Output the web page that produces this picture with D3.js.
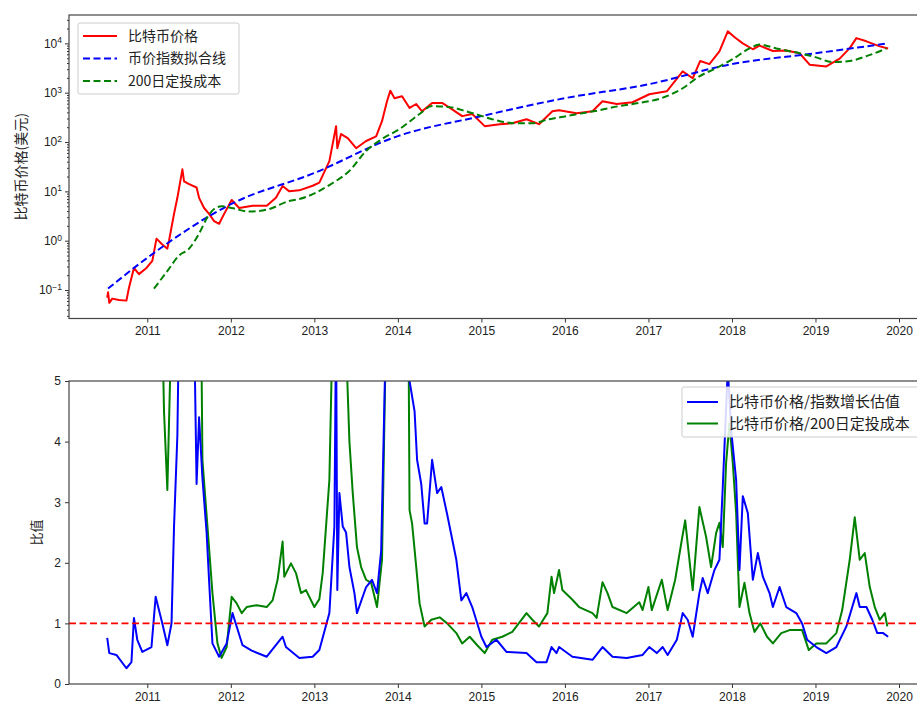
<!DOCTYPE html>
<html lang="zh">
<head>
<meta charset="utf-8">
<script src="https://d3js.org/d3.v7.min.js"></script>
<style>
body { margin: 0; background: #fff; }
svg { font-family: "Noto Sans CJK SC", "Noto Sans", sans-serif; }
.axis text { font-size: 12px; fill: #222; }
.axis line { stroke: #333; }
.axis path { display: none; }
.spine { fill: none; stroke: #444; stroke-width: 1.2; }
.line { fill: none; stroke-width: 2; stroke-linejoin: round; }
.legend-box { fill: #fff; fill-opacity: 0.85; stroke: #ccc; }
</style>
</head>
<body>
<svg width="917" height="709"></svg>
<script>

// ---- data: [year, value] ----
var price = [
  [2010.52, 0.07], [2010.53, 0.09], [2010.545, 0.055], [2010.58, 0.067], [2010.66, 0.063],
  [2010.75, 0.061], [2010.78, 0.11], [2010.84, 0.28], [2010.90, 0.21], [2010.99, 0.28],
  [2011.06, 0.39], [2011.11, 1.1], [2011.17, 0.87], [2011.24, 0.69], [2011.26, 1.0],
  [2011.32, 3.5], [2011.36, 7.4], [2011.42, 28], [2011.44, 16], [2011.50, 14],
  [2011.59, 12], [2011.62, 7.4], [2011.68, 4.6], [2011.74, 3.5], [2011.80, 2.5],
  [2011.86, 2.2], [2011.92, 3.5], [2012.01, 6.7], [2012.10, 4.6], [2012.26, 5.1],
  [2012.43, 5.1], [2012.54, 7.4], [2012.62, 12.9], [2012.70, 10], [2012.82, 10.5],
  [2012.98, 13], [2013.06, 15], [2013.18, 41], [2013.26, 210], [2013.275, 75],
  [2013.32, 145], [2013.40, 120], [2013.50, 75], [2013.62, 105], [2013.74, 130],
  [2013.81, 265], [2013.87, 670], [2013.91, 1100], [2013.96, 770], [2014.05, 850],
  [2014.14, 490], [2014.22, 590], [2014.29, 420], [2014.41, 620], [2014.53, 620],
  [2014.65, 460], [2014.77, 335], [2014.89, 370], [2015.04, 210], [2015.22, 230],
  [2015.37, 240], [2015.54, 290], [2015.69, 230], [2015.85, 420], [2015.93, 440],
  [2016.14, 385], [2016.33, 420], [2016.45, 670], [2016.62, 590], [2016.81, 640],
  [2017.01, 930], [2017.22, 1070], [2017.41, 2700], [2017.53, 1960], [2017.62, 4400],
  [2017.73, 3800], [2017.85, 6900], [2017.95, 17500], [2018.04, 13000], [2018.13, 10000],
  [2018.25, 7600], [2018.33, 9000], [2018.49, 7000], [2018.65, 7200], [2018.81, 6300],
  [2018.93, 3700], [2019.13, 3400], [2019.29, 4900], [2019.41, 8000], [2019.49, 12800],
  [2019.61, 11000], [2019.77, 8700], [2019.87, 7900]
];

var fitLine = [
  [2010.53, 0.107], [2011.0, 0.45], [2012.0, 5.5], [2013.0, 23.6], [2014.0, 132],
  [2015.0, 335], [2016.0, 775], [2017.0, 1480], [2018.0, 3800], [2019.0, 6300],
  [2019.87, 10000]
];

var dcaCost = [
  [2011.08, 0.107], [2011.23, 0.23], [2011.38, 0.5], [2011.50, 0.69], [2011.62, 1.4],
  [2011.72, 3.0], [2011.80, 4.4], [2011.89, 5.0], [2012.01, 4.6], [2012.22, 3.9],
  [2012.46, 4.4], [2012.70, 6.4], [2012.82, 7.0], [2013.22, 14.8], [2013.42, 26],
  [2013.62, 66], [2013.81, 115], [2014.02, 183], [2014.26, 370], [2014.41, 535],
  [2014.62, 510], [2014.82, 420], [2015.01, 335], [2015.22, 265], [2015.42, 240],
  [2015.61, 240], [2015.81, 290], [2016.02, 335], [2016.21, 385], [2016.41, 440],
  [2016.65, 535], [2016.81, 590], [2017.22, 850], [2017.41, 1230], [2017.61, 2150],
  [2017.81, 3150], [2018.01, 4800], [2018.21, 7900], [2018.33, 9500], [2018.53, 7900],
  [2018.81, 6300], [2019.01, 5200], [2019.20, 4200], [2019.41, 4400], [2019.61, 5500],
  [2019.85, 7900]
];

var ratioFit = [
  [2010.52, 0.76], [2010.545, 0.51], [2010.63, 0.48], [2010.75, 0.26], [2010.81, 0.36],
  [2010.84, 1.09], [2010.88, 0.73], [2010.94, 0.53], [2011.05, 0.61], [2011.10, 1.44],
  [2011.18, 1.0], [2011.24, 0.64], [2011.29, 1.0], [2011.32, 2.6], [2011.36, 4.1],
  [2011.38, 6], [2011.44, 12], [2011.50, 9], [2011.56, 6], [2011.59, 3.3],
  [2011.62, 4.4], [2011.66, 3.4], [2011.71, 2.5], [2011.74, 1.7], [2011.78, 0.67],
  [2011.86, 0.45], [2011.95, 0.67], [2012.02, 1.17], [2012.07, 0.95], [2012.14, 0.64],
  [2012.25, 0.55], [2012.43, 0.45], [2012.62, 0.78], [2012.66, 0.61], [2012.82, 0.43],
  [2012.98, 0.45], [2013.06, 0.56], [2013.18, 1.17], [2013.24, 2.6], [2013.26, 6],
  [2013.275, 1.55], [2013.30, 3.15], [2013.34, 2.6], [2013.38, 2.5], [2013.42, 1.93],
  [2013.48, 1.5], [2013.51, 1.17], [2013.62, 1.6], [2013.69, 1.72], [2013.75, 1.5],
  [2013.80, 2.2], [2013.86, 6], [2013.96, 9], [2014.05, 7], [2014.14, 5],
  [2014.20, 4.5], [2014.23, 3.7], [2014.28, 3.3], [2014.32, 2.65], [2014.35, 2.65],
  [2014.41, 3.7], [2014.47, 3.15], [2014.52, 3.25], [2014.59, 2.8], [2014.70, 2.05],
  [2014.76, 1.38], [2014.82, 1.5], [2014.89, 1.27], [2015.00, 0.78], [2015.06, 0.61],
  [2015.18, 0.73], [2015.30, 0.53], [2015.54, 0.51], [2015.66, 0.36], [2015.78, 0.36],
  [2015.84, 0.61], [2015.90, 0.51], [2015.93, 0.61], [2016.09, 0.45], [2016.33, 0.4],
  [2016.45, 0.61], [2016.57, 0.45], [2016.74, 0.43], [2016.93, 0.48], [2017.01, 0.61],
  [2017.10, 0.51], [2017.17, 0.61], [2017.23, 0.48], [2017.34, 0.73], [2017.41, 1.17],
  [2017.47, 1.06], [2017.53, 0.78], [2017.61, 1.5], [2017.65, 1.75], [2017.71, 1.5],
  [2017.79, 1.88], [2017.85, 2.05], [2017.89, 3.25], [2017.95, 5.2], [2017.99, 4.2],
  [2018.05, 3.37], [2018.09, 1.88], [2018.13, 3.1], [2018.19, 2.82], [2018.25, 1.72],
  [2018.31, 2.16], [2018.37, 1.77], [2018.45, 1.5], [2018.49, 1.27], [2018.57, 1.6],
  [2018.65, 1.27], [2018.77, 1.17], [2018.84, 1.0], [2018.90, 0.73], [2019.01, 0.61],
  [2019.13, 0.51], [2019.25, 0.61], [2019.37, 0.95], [2019.49, 1.5], [2019.53, 1.27],
  [2019.61, 1.27], [2019.68, 1.06], [2019.74, 0.84], [2019.81, 0.84], [2019.87, 0.78]
];

var ratioDca = [
  [2011.15, 8], [2011.20, 4.5], [2011.24, 3.2], [2011.29, 6], [2011.38, 15],
  [2011.56, 10], [2011.65, 5.2], [2011.66, 3.7], [2011.72, 2.6], [2011.78, 1.5],
  [2011.84, 0.67], [2011.89, 0.43], [2011.95, 0.61], [2012.01, 1.44], [2012.07, 1.33],
  [2012.13, 1.17], [2012.19, 1.27], [2012.31, 1.3], [2012.43, 1.27], [2012.50, 1.38],
  [2012.56, 1.72], [2012.62, 2.35], [2012.64, 1.77], [2012.72, 1.99], [2012.78, 1.83],
  [2012.84, 1.5], [2012.90, 1.55], [2013.00, 1.27], [2013.06, 1.4], [2013.10, 1.83],
  [2013.18, 3.37], [2013.22, 6], [2013.30, 9], [2013.37, 6], [2013.42, 4.0],
  [2013.46, 3.15], [2013.51, 2.26], [2013.56, 1.93], [2013.62, 1.72], [2013.68, 1.67],
  [2013.75, 1.27], [2013.81, 2.05], [2013.86, 6], [2013.99, 12], [2014.08, 8],
  [2014.13, 5.2], [2014.14, 2.87], [2014.17, 2.65], [2014.22, 1.93], [2014.26, 1.33],
  [2014.32, 0.95], [2014.40, 1.06], [2014.50, 1.1], [2014.59, 1.0], [2014.70, 0.84],
  [2014.77, 0.67], [2014.86, 0.78], [2014.95, 0.64], [2015.04, 0.51], [2015.13, 0.73],
  [2015.25, 0.78], [2015.37, 0.86], [2015.54, 1.17], [2015.61, 1.06], [2015.69, 0.95],
  [2015.79, 1.17], [2015.84, 1.77], [2015.87, 1.5], [2015.93, 1.88], [2015.97, 1.55],
  [2016.09, 1.39], [2016.17, 1.27], [2016.33, 1.17], [2016.38, 1.09], [2016.45, 1.68],
  [2016.51, 1.5], [2016.57, 1.27], [2016.74, 1.17], [2016.89, 1.35], [2016.93, 1.22],
  [2017.00, 1.6], [2017.04, 1.22], [2017.16, 1.72], [2017.23, 1.22], [2017.32, 1.72],
  [2017.40, 2.38], [2017.44, 2.7], [2017.53, 1.55], [2017.61, 2.92], [2017.69, 2.43],
  [2017.75, 1.93], [2017.81, 2.49], [2017.85, 2.66], [2017.89, 2.26], [2017.93, 3.65],
  [2017.97, 4.3], [2018.01, 3.65], [2018.05, 2.82], [2018.09, 1.27], [2018.15, 1.67],
  [2018.21, 1.17], [2018.27, 0.86], [2018.34, 1.0], [2018.42, 0.78], [2018.49, 0.67],
  [2018.59, 0.84], [2018.69, 0.89], [2018.84, 0.89], [2018.92, 0.56], [2019.01, 0.67],
  [2019.13, 0.67], [2019.25, 0.84], [2019.32, 1.22], [2019.41, 2.05], [2019.47, 2.75],
  [2019.53, 2.05], [2019.59, 2.16], [2019.65, 1.6], [2019.71, 1.27], [2019.77, 1.06],
  [2019.83, 1.17], [2019.86, 0.95]
];

var yearTicks = [2011, 2012, 2013, 2014, 2015, 2016, 2017, 2018, 2019, 2020];
var logTicks = [0.1, 1, 10, 100, 1000, 10000];
var ratioTicks = [0, 1, 2, 3, 4, 5];

var topLegend = ["比特币价格", "币价指数拟合线", "200日定投成本"];
var bottomLegend = ["比特币价格/指数增长估值", "比特币价格/200日定投成本"];

// ---- layout ----
var svg = d3.select("svg");
var left = 69, right = 927.4;
var top1 = 15, bot1 = 318.5, top2 = 381, bot2 = 684;

var x = d3.scaleLinear().domain([2010.0625, 2020.34]).range([left, right]);
var y1 = d3.scaleLog().domain([Math.pow(10, -1.577), Math.pow(10, 4.575)]).range([bot1, top1]);
var y2 = d3.scaleLinear().domain([0, 5]).range([bot2, top2]);

svg.append("clipPath").attr("id", "clip1").append("rect")
    .attr("x", left).attr("y", top1).attr("width", right - left).attr("height", bot1 - top1);
svg.append("clipPath").attr("id", "clip2").append("rect")
    .attr("x", left).attr("y", top2).attr("width", right - left).attr("height", bot2 - top2);

// ---- top panel ----
var g1 = svg.append("g").attr("clip-path", "url(#clip1)");
var line1 = d3.line().x(function(d) { return x(d[0]); }).y(function(d) { return y1(d[1]); });
var smooth1 = d3.line().curve(d3.curveMonotoneX)
    .x(function(d) { return x(d[0]); }).y(function(d) { return y1(d[1]); });

g1.append("path").datum(price).attr("class", "line").attr("stroke", "#ff0000").attr("d", line1);
g1.append("path").datum(fitLine).attr("class", "line").attr("stroke", "#0000ff")
    .attr("stroke-dasharray", "7,3.5").attr("d", smooth1);
g1.append("path").datum(dcaCost).attr("class", "line").attr("stroke", "#008000")
    .attr("stroke-dasharray", "7,3.5").attr("d", smooth1);

svg.append("g").attr("class", "axis").attr("transform", "translate(0," + bot1 + ")")
    .call(d3.axisBottom(x).tickValues(yearTicks).tickFormat(d3.format("d")).tickSize(4).tickPadding(4));

var minor = [];
for (var e = -2; e <= 4; e++) for (var m = 2; m <= 9; m++) {
  var v = m * Math.pow(10, e);
  if (v > y1.domain()[0] && v < y1.domain()[1]) minor.push(v);
}
svg.append("g").attr("class", "axis").attr("transform", "translate(" + left + ",0)")
    .call(d3.axisLeft(y1).tickValues(minor).tickFormat("").tickSize(2));

var yAx1 = svg.append("g").attr("class", "axis").attr("transform", "translate(" + left + ",0)")
    .call(d3.axisLeft(y1).tickValues(logTicks).tickFormat("").tickSize(4));
yAx1.selectAll(".tick").append("text")
    .attr("x", -7).attr("dy", "0.32em").attr("text-anchor", "end")
    .each(function(d) {
      var t = d3.select(this);
      t.append("tspan").text("10");
      t.append("tspan").attr("dy", "-0.5em").style("font-size", "8.5px")
          .text(String(Math.round(Math.log10(d))).replace("-", "\u2212"));
    });

svg.append("rect").attr("class", "spine")
    .attr("x", left).attr("y", top1).attr("width", right - left).attr("height", bot1 - top1);

svg.append("text").attr("transform", "translate(21," + ((top1 + bot1) / 2) + ") rotate(-90)")
    .attr("text-anchor", "middle").attr("dy", "0.35em").style("font-size", "14px").attr("fill", "#222")
    .text("比特币价格(美元)");

// legend top
var lg1 = svg.append("g");
lg1.append("rect").attr("class", "legend-box").attr("x", 78).attr("y", 23)
    .attr("width", 161).attr("height", 71).attr("rx", 2);
var lg1Style = [
  { c: "#ff0000", dash: null },
  { c: "#0000ff", dash: "7,3.5" },
  { c: "#008000", dash: "7,3.5" }
];
topLegend.forEach(function(name, i) {
  var yy = 36 + i * 22.5;
  lg1.append("line").attr("x1", 83).attr("x2", 117).attr("y1", yy).attr("y2", yy)
      .attr("stroke", lg1Style[i].c).attr("stroke-width", 2)
      .attr("stroke-dasharray", lg1Style[i].dash);
  lg1.append("text").attr("x", 128).attr("y", yy).attr("dy", "0.35em")
      .style("font-size", "14px").attr("fill", "#222").text(name);
});

// ---- bottom panel ----
var g2 = svg.append("g").attr("clip-path", "url(#clip2)");
var line2 = d3.line().x(function(d) { return x(d[0]); }).y(function(d) { return y2(d[1]); });

g2.append("path").datum(ratioDca).attr("class", "line").attr("stroke", "#008000").attr("d", line2);
g2.append("path").datum(ratioFit).attr("class", "line").attr("stroke", "#0000ff").attr("d", line2);
g2.append("line").attr("x1", left).attr("x2", right).attr("y1", y2(1)).attr("y2", y2(1))
    .attr("stroke", "#ff0000").attr("stroke-width", 1.6).attr("stroke-dasharray", "7,3.5");

svg.append("g").attr("class", "axis").attr("transform", "translate(0," + bot2 + ")")
    .call(d3.axisBottom(x).tickValues(yearTicks).tickFormat(d3.format("d")).tickSize(4).tickPadding(4));
svg.append("g").attr("class", "axis").attr("transform", "translate(" + left + ",0)")
    .call(d3.axisLeft(y2).tickValues(ratioTicks).tickFormat(d3.format("d")).tickSize(4).tickPadding(4));

svg.append("rect").attr("class", "spine")
    .attr("x", left).attr("y", top2).attr("width", right - left).attr("height", bot2 - top2);

svg.append("text").attr("transform", "translate(36," + ((top2 + bot2) / 2) + ") rotate(-90)")
    .attr("text-anchor", "middle").attr("dy", "0.35em").style("font-size", "13px").attr("fill", "#222")
    .text("比值");

// legend bottom
var lg2 = svg.append("g");
lg2.append("rect").attr("class", "legend-box").attr("x", 682).attr("y", 387)
    .attr("width", 250).attr("height", 50).attr("rx", 2);
var lg2Colors = ["#0000ff", "#008000"];
bottomLegend.forEach(function(name, i) {
  var yy = 402 + i * 21.5;
  lg2.append("line").attr("x1", 687).attr("x2", 718).attr("y1", yy).attr("y2", yy)
      .attr("stroke", lg2Colors[i]).attr("stroke-width", 2);
  lg2.append("text").attr("x", 729).attr("y", yy).attr("dy", "0.35em")
      .style("font-size", "15px").attr("fill", "#222").text(name);
});

</script>
</body>
</html>
